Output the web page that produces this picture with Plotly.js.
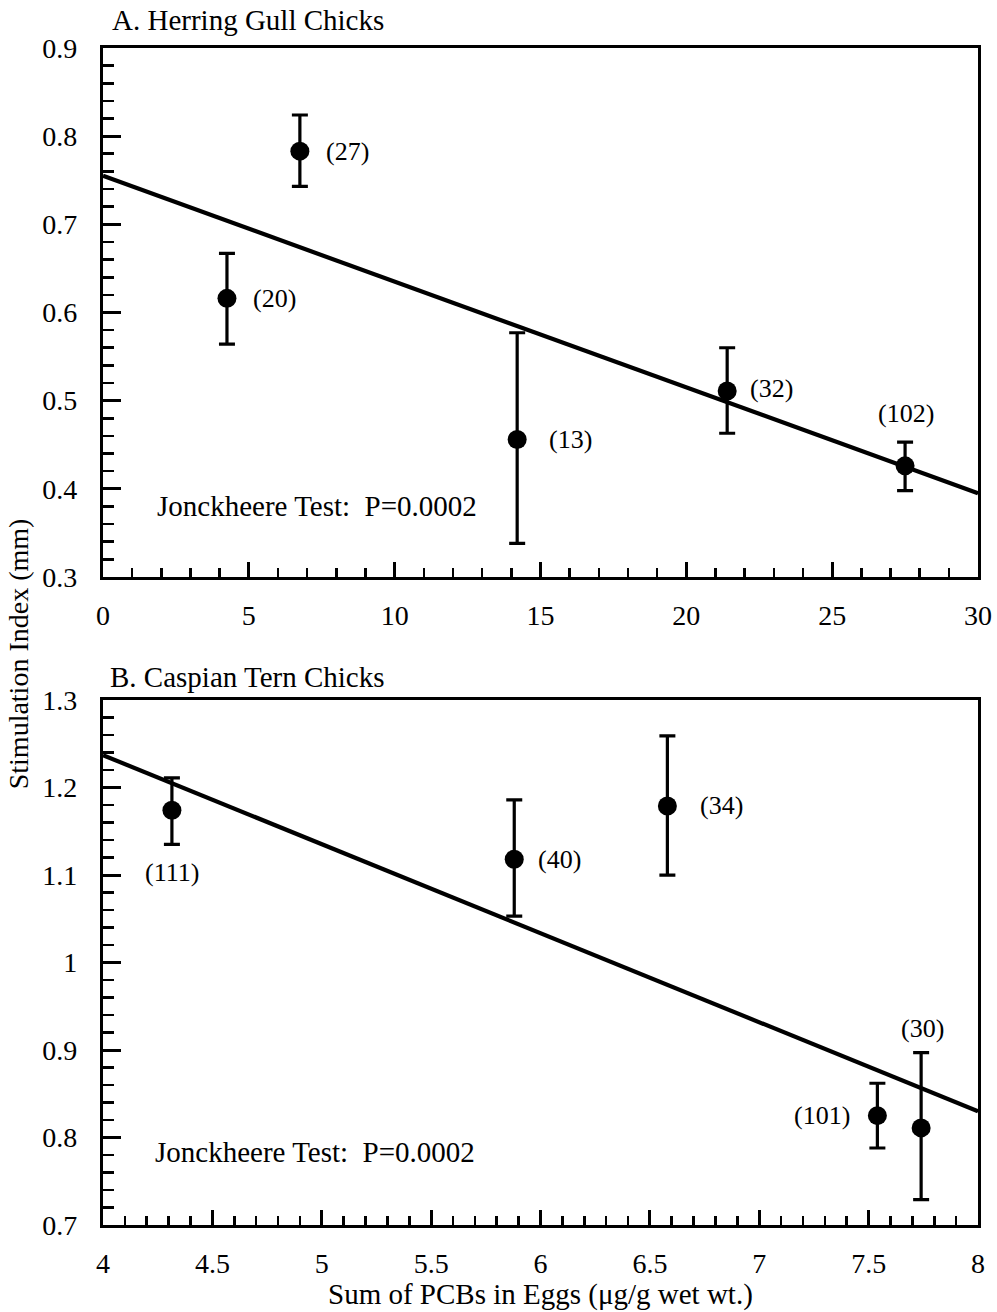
<!DOCTYPE html>
<html>
<head>
<meta charset="utf-8">
<script src="https://cdn.plot.ly/plotly-3.0.1.min.js"></script>
<style>html,body{margin:0;padding:0;background:#fff;}#chart{width:997px;height:1312px;}</style>
</head>
<body>
<div id="chart"></div>
<script>
// Panel A: Herring Gull Chicks
var gullPCB = [4.25, 6.75, 14.2, 21.4, 27.5];
var gullSI = [0.616, 0.783, 0.456, 0.511, 0.426];
var gullErrUp = [0.667, 0.824, 0.577, 0.560, 0.453];
var gullErrLow = [0.564, 0.743, 0.338, 0.463, 0.398];
var gullN = ["(20)", "(27)", "(13)", "(32)", "(102)"];
var gullFitX = [0, 30];
var gullFitY = [0.755, 0.395];

// Panel B: Caspian Tern Chicks
var ternPCB = [4.315, 5.88, 6.58, 7.54, 7.74];
var ternSI = [1.174, 1.118, 1.179, 0.825, 0.811];
var ternErrUp = [1.211, 1.186, 1.259, 0.862, 0.897];
var ternErrLow = [1.135, 1.053, 1.100, 0.788, 0.729];
var ternN = ["(111)", "(40)", "(34)", "(101)", "(30)"];
var ternFitX = [4, 8];
var ternFitY = [1.237, 0.830];

var testText = "Jonckheere Test:  P=0.0002";

// label placement (style only): [xanchor, xshift, yshift]
var gullLabelPos = [["left",24,0],["left",24,0],["left",30,0],["left",21,2],["center",1,52]];
var ternLabelPos = [["center",0,-62],["left",22,0],["left",31,0],["right",-25,0],["center",1,99]];

var serif = "Liberation Serif, Times New Roman, serif";

function errTrace(x, y, up, low, xa, ya) {
  return {
    x: x, y: y, xaxis: xa, yaxis: ya, type: "scatter", mode: "markers",
    marker: {color: "black", size: 19},
    error_y: {
      type: "data", symmetric: false,
      array: y.map(function(v, i){ return up[i] - v; }),
      arrayminus: y.map(function(v, i){ return v - low[i]; }),
      color: "black", thickness: 3.2, width: 8
    },
    showlegend: false, hoverinfo: "skip"
  };
}
function fitTrace(x, y, xa, ya) {
  return {x: x, y: y, xaxis: xa, yaxis: ya, type: "scatter", mode: "lines",
    line: {color: "black", width: 4.2}, showlegend: false, hoverinfo: "skip"};
}

var data = [
  fitTrace(gullFitX, gullFitY, "x", "y"),
  errTrace(gullPCB, gullSI, gullErrUp, gullErrLow, "x", "y"),
  fitTrace(ternFitX, ternFitY, "x2", "y2"),
  errTrace(ternPCB, ternSI, ternErrUp, ternErrLow, "x2", "y2")
];

var annotations = [];
function addLabels(xs, ys, labels, pos, xr, yr) {
  for (var i = 0; i < xs.length; i++) {
    annotations.push({
      x: xs[i], y: ys[i], xref: xr, yref: yr, text: labels[i], showarrow: false,
      xanchor: pos[i][0], yanchor: "middle", xshift: pos[i][1], yshift: pos[i][2],
      font: {family: serif, size: 26, color: "black"}
    });
  }
}
addLabels(gullPCB, gullSI, gullN, gullLabelPos, "x", "y");
addLabels(ternPCB, ternSI, ternN, ternLabelPos, "x2", "y2");

annotations.push(
  {text: "A. Herring Gull Chicks", xref: "paper", yref: "paper", x: 0.008, y: 1.0235,
   xanchor: "left", yanchor: "middle", showarrow: false, font: {family: serif, size: 29, color: "black"}},
  {text: "B. Caspian Tern Chicks", xref: "paper", yref: "paper", x: 0.006, y: 0.4656,
   xanchor: "left", yanchor: "middle", showarrow: false, font: {family: serif, size: 29, color: "black"}},
  {text: testText, xref: "x domain", yref: "y domain", x: 0.059, y: 0.134,
   xanchor: "left", yanchor: "middle", showarrow: false, font: {family: serif, size: 29, color: "black"}},
  {text: testText, xref: "x2 domain", yref: "y2 domain", x: 0.057, y: 0.139,
   xanchor: "left", yanchor: "middle", showarrow: false, font: {family: serif, size: 29, color: "black"}},
  {text: "Stimulation Index (mm)", xref: "paper", yref: "paper", x: -0.097, y: 0.485,
   xanchor: "center", yanchor: "middle", textangle: -90, showarrow: false,
   font: {family: serif, size: 28, color: "black"}},
  {text: "Sum of PCBs in Eggs (\u03bcg/g wet wt.)", xref: "paper", yref: "paper", x: 0.5, y: -0.059,
   xanchor: "center", yanchor: "middle", showarrow: false, font: {family: serif, size: 29, color: "black"}}
);

function xAxis(range, dtick, mdtick, anchor) {
  return {
    range: range, dtick: dtick, tick0: range[0], anchor: anchor,
    showgrid: false, zeroline: false, showline: true, mirror: true,
    linecolor: "black", linewidth: 3.2,
    ticks: "inside", ticklen: 15, tickwidth: 3, tickcolor: "black",
    minor: {dtick: mdtick, ticks: "inside", ticklen: 9, tickwidth: 2.6, tickcolor: "black", showgrid: false},
    ticklabelstandoff: 11,
    tickfont: {family: serif, size: 28, color: "black"}
  };
}
function yAxis(range, dtick, mdtick, domain, anchor) {
  return {
    range: range, dtick: dtick, tick0: range[0], domain: domain, anchor: anchor,
    showgrid: false, zeroline: false, showline: true, mirror: true,
    linecolor: "black", linewidth: 3.2,
    ticks: "inside", ticklen: 18, tickwidth: 3, tickcolor: "black",
    minor: {dtick: mdtick, ticks: "inside", ticklen: 11, tickwidth: 2.6, tickcolor: "black", showgrid: false},
    ticklabelstandoff: 17,
    tickfont: {family: serif, size: 28, color: "black"}
  };
}

var layout = {
  width: 997, height: 1312,
  margin: {l: 103, r: 19, t: 48, b: 87},
  paper_bgcolor: "white", plot_bgcolor: "white",
  showlegend: false,
  xaxis: xAxis([0, 30], 5, 1, "y"),
  yaxis: yAxis([0.3, 0.9], 0.1, 0.02, [0.5506, 1], "x"),
  xaxis2: xAxis([4, 8], 0.5, 0.1, "y2"),
  yaxis2: yAxis([0.7, 1.3], 0.1, 0.02, [0, 0.446], "x2"),
  annotations: annotations
};

Plotly.newPlot("chart", data, layout, {staticPlot: true});
</script>
</body>
</html>
